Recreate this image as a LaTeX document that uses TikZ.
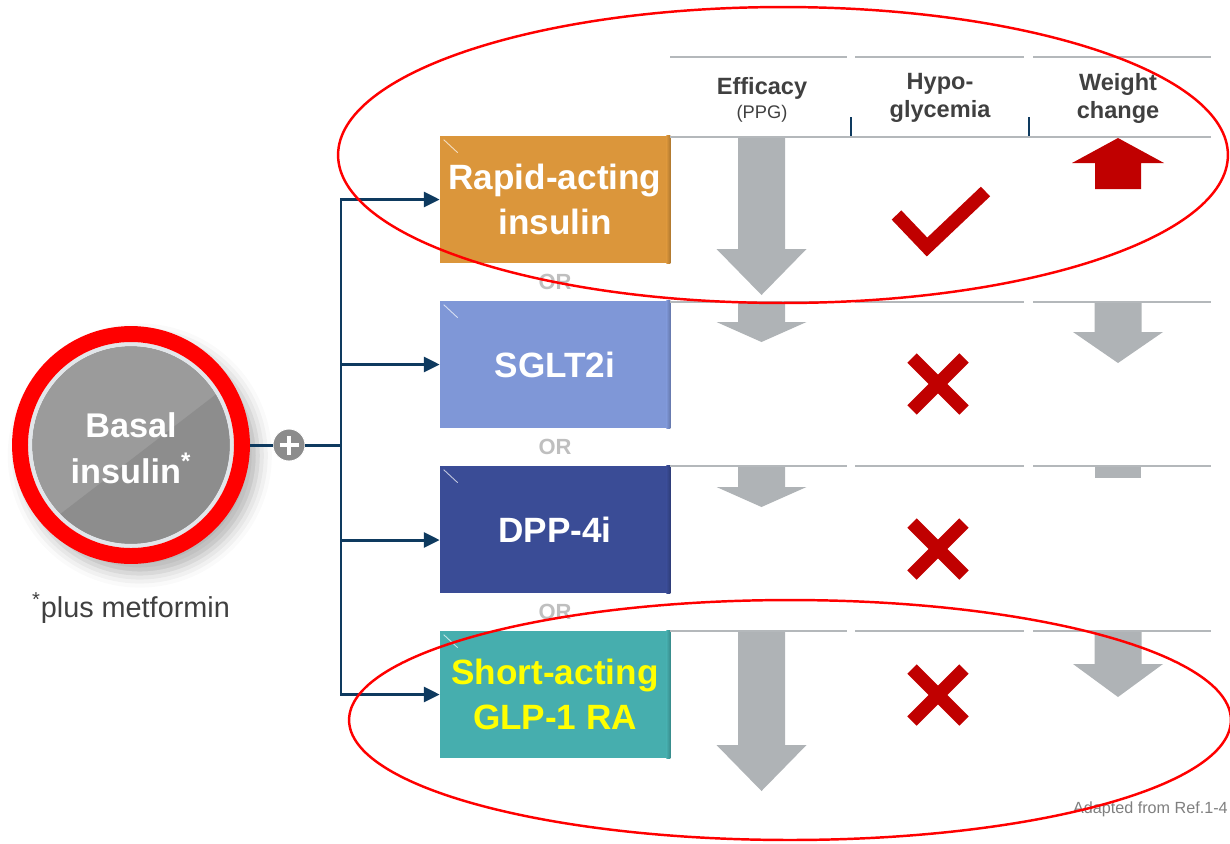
\documentclass[tikz,border=0pt]{standalone}
\usepackage{fontspec}
\setmainfont{Liberation Sans}
\usetikzlibrary{arrows.meta,shadows.blur}
\definecolor{navy}{HTML}{0E3A5F}
\definecolor{garrow}{HTML}{AFB3B6}
\definecolor{gline}{HTML}{B4B8BB}
\definecolor{markred}{HTML}{C00000}
\definecolor{ovalred}{HTML}{FF0000}
\definecolor{boxA}{HTML}{DB963B}
\definecolor{boxB}{HTML}{7F97D7}
\definecolor{boxC}{HTML}{3A4C96}
\definecolor{boxD}{HTML}{46AEAE}
\definecolor{hdrtext}{HTML}{404040}
\definecolor{ortext}{HTML}{BFBFBF}
\definecolor{srctext}{HTML}{7F7F7F}
\definecolor{disk}{HTML}{9B9B9B}
\definecolor{diskdark}{HTML}{8D8D8D}
\definecolor{plusgrey}{HTML}{8C8C8C}
\definecolor{ringlight}{HTML}{E2E6EA}
\definecolor{glpyellow}{HTML}{FFFF00}
\newcommand\gdown[4]{\fill[garrow] ({#1-23.5},#2) -- ({#1+23.5},#2) -- ({#1+23.5},#3) -- ({#1+45},#3) -- (#1,#4) -- ({#1-45},#3) -- ({#1-23.5},#3) -- cycle;}
\begin{document}
\begin{tikzpicture}[x=0.02cm,y=-0.02cm,
  drug/.style={rectangle, inner sep=0pt, minimum width=4.6cm, minimum height=2.54cm, text=white, align=center, font=\bfseries\fontsize{20}{25.5}\selectfont},
  conn/.style={draw=navy, line width=1.7pt},
  arrowend/.style={-{Triangle[length=9pt,width=8.5pt]}},
  hdr/.style={text=hdrtext, align=center, font=\bfseries\fontsize{13.4}{15.9}\selectfont, inner sep=0pt},
  subhdr/.style={text=hdrtext, font=\fontsize{10.4}{12}\selectfont, inner sep=0pt},
  orlabel/.style={text=ortext, font=\bfseries\fontsize{12.5}{14}\selectfont, inner sep=0pt},
  rowline/.style={draw=gline, line width=1.1pt},
  markline/.style={draw=markred, line width=7.6pt},
  oval/.style={draw=ovalred, line width=1.4pt}
]
\useasboundingbox (0,0) rectangle (1230,843);

% --- Basal insulin circle ---
\fill[white, blur shadow={shadow xshift=5pt, shadow yshift=-6pt, shadow blur radius=8pt, shadow opacity=30}] (131,445) circle (2.36cm);
\node[circle, minimum size=4.76cm, inner sep=0pt] (basal) at (131,445) {};
\fill[disk] (basal.center) circle (1.98cm);
\begin{scope}
  \clip (basal.center) circle (1.98cm);
  \fill[diskdark] (20,545) -- (245,372) -- (245,560) -- (20,560) -- cycle;
\end{scope}
\draw[ringlight, line width=2.3pt] (basal.center) circle (2.02cm);
\draw[ovalred, line width=9.07pt] (basal.center) circle (2.22cm);
\node[text=white, align=center, inner sep=0pt, font=\bfseries\fontsize{19.5}{26}\selectfont] (basaltext) at (131,448) {Basal\\insulin\textsuperscript{*}};
\node[text=hdrtext, inner sep=0pt, font=\fontsize{16.4}{18}\selectfont] (footnote) at (131,608) {\textsuperscript{*}plus metformin};

% --- plus sign ---
\node[circle, fill=plusgrey, draw=white, line width=0.5pt, minimum size=0.64cm, inner sep=0pt] (plus) at (289,445) {};
\draw[white, line width=2.6pt] ([xshift=-0.19cm]plus.center) -- ([xshift=0.19cm]plus.center);
\draw[white, line width=2.6pt] ([yshift=-0.19cm]plus.center) -- ([yshift=0.19cm]plus.center);

% --- drug boxes ---
\node[drug, fill=boxA] (b1) at (555,199.5) {Rapid-acting\\insulin};
\node[drug, fill=boxB] (b2) at (555,364.5) {SGLT2i};
\node[drug, fill=boxC] (b3) at (555,529.5) {DPP-4i};
\node[drug, fill=boxD, text=glpyellow] (b4) at (555,694.5) {Short-acting\\GLP-1 RA};
\foreach \b/\c in {b1/boxA,b2/boxB,b3/boxC,b4/boxD}{
  \shade[left color=\c, right color=\c!80!black] ([xshift=-0.08cm]\b.north east) rectangle (\b.south east);
  \draw[white, opacity=0.7, line width=0.5pt] ([shift={(4,4)}]\b.north west) -- ([shift={(18,17)}]\b.north west);
}
\node[orlabel] (or1) at (555,282) {OR};
\node[orlabel] (or2) at (555,447) {OR};
\node[orlabel] (or3) at (555,612) {OR};

% --- connectors ---
\coordinate (hub) at (341,445);
\coordinate (v1) at (341,199.5);
\coordinate (v2) at (341,364.5);
\coordinate (v3) at (341,540);
\coordinate (v4) at (341,694.5);
\draw[conn] (basal.east) -- (plus.west);
\draw[conn] (plus.east) -- (hub);
\draw[conn, {Triangle[length=9pt,width=8.5pt]}-{Triangle[length=9pt,width=8.5pt]}] (b4.west) -- (v4) -- (v1) -- (b1.west);
\draw[conn, arrowend] (v2) -- (b2.west);
\draw[conn, arrowend] (v3) -- (v3 -| b3.west);

% --- table header ---
\node[hdr] (effh) at (762,88) {Efficacy};
\node[subhdr] (ppg) at (762,114) {(PPG)};
\node[hdr] (hypoh) at (940,98) {Hypo-\\glycemia};
\node[hdr] (wth) at (1118,98) {Weight\\change};
\foreach \yy in {57,302,466,631}{
  \draw[rowline] (670,\yy) -- (847,\yy);
  \draw[rowline] (855,\yy) -- (1024,\yy);
  \draw[rowline] (1033,\yy) -- (1211,\yy);
}
\draw[rowline] (670,137) -- (1211,137);
\draw[navy, line width=1.4pt] (851,117) -- (851,136);
\draw[navy, line width=1.4pt] (1029,117) -- (1029,136);

% --- efficacy / weight arrows ---
\gdown{761.5}{138}{249}{295}
\gdown{761.5}{303}{322}{342}
\gdown{1118}{303}{332}{363}
\gdown{761.5}{467}{487}{507}
\fill[garrow] (1095,467) rectangle (1141,478);
\gdown{761.5}{632}{745}{791}
\gdown{1118}{632}{664}{697}
\fill[markred] (1118,138) -- (1164,163) -- (1141,163) -- (1141,189) -- (1095,189) -- (1095,163) -- (1072,163) -- cycle;

% --- hypoglycemia marks ---
\draw[markline] (896.5,215) -- (927,247) -- (985.5,191.5);
\foreach \cy in {384,549,695}{
  \draw[markline] (912,{\cy-26}) -- (964,{\cy+26});
  \draw[markline] (964,{\cy-26}) -- (912,{\cy+26});
}

\node[anchor=east, text=srctext, inner sep=0pt, font=\fontsize{9.2}{11}\selectfont] (src) at (1228,809) {Adapted from Ref.1-4};

% --- highlight ovals ---
\draw[oval] (783,155) ellipse [x radius=8.9cm, y radius=2.96cm];
\draw[oval] (790,720) ellipse [x radius=8.82cm, y radius=2.4cm];
\end{tikzpicture}
\end{document}
